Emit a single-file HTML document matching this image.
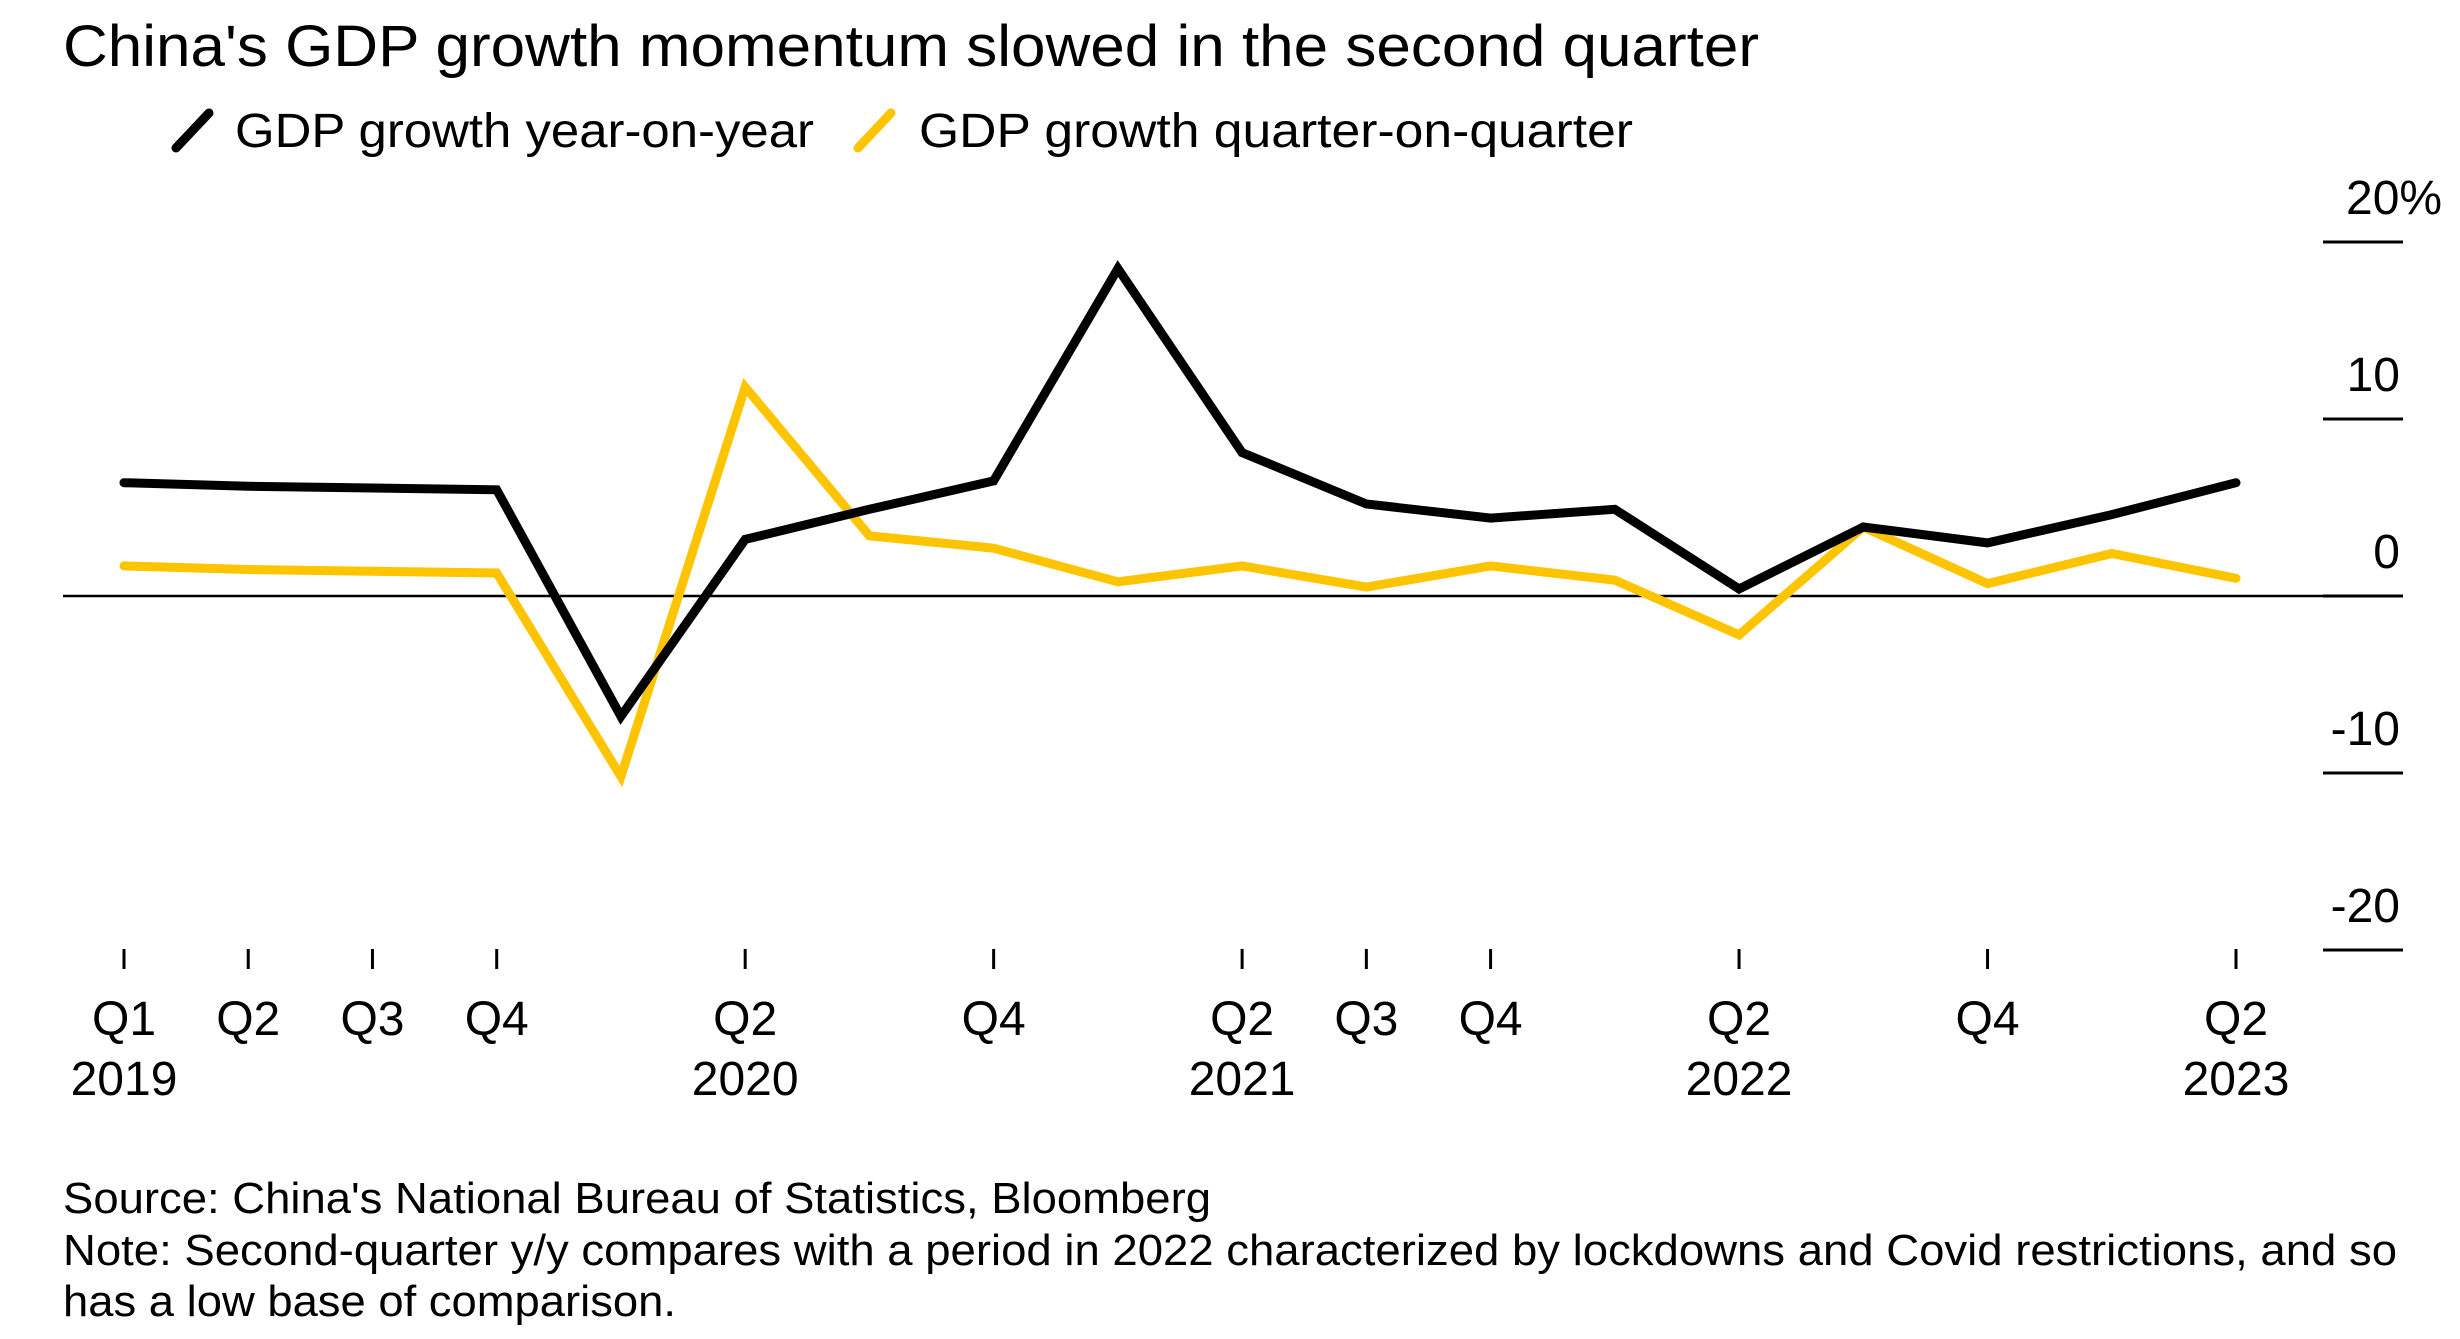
<!DOCTYPE html>
<html><head><meta charset="utf-8"><style>
html,body{margin:0;padding:0;background:#fff;}
svg{display:block;font-family:"Liberation Sans",Arial,sans-serif;}
</style></head><body>
<svg id="chart" width="2460" height="1339" viewBox="0 0 2460 1339">
<text x="63" y="66" font-size="58" textLength="1696" lengthAdjust="spacingAndGlyphs" fill="#000">China's GDP growth momentum slowed in the second quarter</text>
<g>
<line x1="176" y1="148" x2="209" y2="113" stroke="#000" stroke-width="9" stroke-linecap="round"/>
<text x="235" y="147" font-size="48" textLength="579" lengthAdjust="spacingAndGlyphs">GDP growth year-on-year</text>
<line x1="858" y1="148" x2="891" y2="113" stroke="#ffc400" stroke-width="9" stroke-linecap="round"/>
<text x="919" y="147" font-size="48" textLength="714" lengthAdjust="spacingAndGlyphs">GDP growth quarter-on-quarter</text>
</g>
<g id="grid"></g>
<g id="xaxis"></g>
<g id="series"></g>
<g font-size="44">
<text x="63" y="1213" textLength="1148" lengthAdjust="spacingAndGlyphs">Source: China's National Bureau of Statistics, Bloomberg</text>
<text x="63" y="1265" textLength="2334" lengthAdjust="spacingAndGlyphs">Note: Second-quarter y/y compares with a period in 2022 characterized by lockdowns and Covid restrictions, and so</text>
<text x="63" y="1316" textLength="613" lengthAdjust="spacingAndGlyphs">has a low base of comparison.</text>
</g>
</svg>
<script>
const quarters = ["2019Q1","2019Q2","2019Q3","2019Q4","2020Q1","2020Q2","2020Q3","2020Q4","2021Q1","2021Q2","2021Q3","2021Q4","2022Q1","2022Q2","2022Q3","2022Q4","2023Q1","2023Q2"];
const yoyValues = [6.4,6.2,6.1,6.0,-6.8,3.2,4.9,6.5,18.5,8.1,5.2,4.4,4.9,0.4,3.9,3.0,4.6,6.4];
const qoqValues = [1.7,1.5,1.4,1.3,-10.2,11.8,3.4,2.7,0.8,1.7,0.5,1.7,0.9,-2.2,3.9,0.7,2.4,1.0];
const yTicks = [20,10,0,-10,-20];
const yTickLabels = ["20%","10","0","-10","-20"];
const xTickIdx = [0,1,2,3,5,7,9,10,11,13,15,17];
const xTickLabels = ["Q1","Q2","Q3","Q4","Q2","Q4","Q2","Q3","Q4","Q2","Q4","Q2"];
const yearIdx = [0,5,9,13,17];
const yearLabels = ["2019","2020","2021","2022","2023"];

const NS="http://www.w3.org/2000/svg";
const X0=124, XSTEP=(2236-124)/17;
const xs=i=>X0+i*XSTEP;
const ys=v=>596-v*17.7;
function mk(tag,attrs,parent){const e=document.createElementNS(NS,tag);for(const k in attrs)e.setAttribute(k,attrs[k]);parent.appendChild(e);return e;}
const grid=document.getElementById('grid');
yTicks.forEach((t,i)=>{
  const l=mk('line',{x1:2323,x2:2403,y1:ys(t),y2:ys(t),stroke:'#000','stroke-width':3},grid);
  
  
  const tx=mk('text',{x:2400,y:ys(t)-28,'font-size':48},grid);
  tx.textContent=yTickLabels[i];
  if(i===0){tx.setAttribute('x',2346);}else{tx.setAttribute('text-anchor','end');}
  
  
});
const zl=mk('line',{x1:63,x2:2323,y1:ys(0),y2:ys(0),stroke:'#000','stroke-width':2.5},grid);


const xa=document.getElementById('xaxis');
xTickIdx.forEach((q,i)=>{
  const t=mk('line',{x1:xs(q),x2:xs(q),y1:949,y2:969,stroke:'#000','stroke-width':3},xa);
  
  
  const tx=mk('text',{x:xs(q),y:1035,'font-size':48,'text-anchor':'middle'},xa);
  tx.textContent=xTickLabels[i];
  
  
});
yearIdx.forEach((q,i)=>{
  const tx=mk('text',{x:xs(q),y:1095,'font-size':48,'text-anchor':'middle'},xa);
  tx.textContent=yearLabels[i];
  
  
});
const sg=document.getElementById('series');
function line(vals,color,name){
  const d=vals.map((v,i)=>(i?'L':'M')+xs(i).toFixed(1)+','+ys(v).toFixed(1)).join(' ');
  const p=mk('path',{d:d,fill:'none',stroke:color,'stroke-width':9,'stroke-linejoin':'miter','stroke-linecap':'round'},sg);
  
  
}
line(qoqValues,'#ffc400','line-qoq');
line(yoyValues,'#000','line-yoy');
</script>
</body></html>
